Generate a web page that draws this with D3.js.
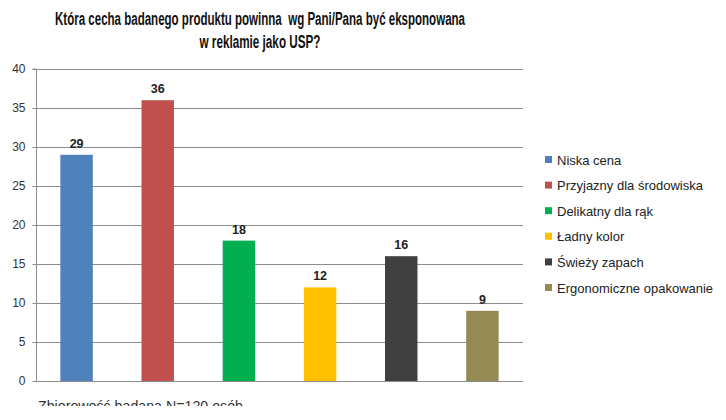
<!DOCTYPE html>
<html><head><meta charset="utf-8">
<script src="https://cdn.jsdelivr.net/npm/d3@7"></script>
<style>body{margin:0;background:#fff}svg{display:block}</style>
</head><body>
<svg id="c" width="726" height="420"></svg>
<script>
const categories = ["Niska cena","Przyjazny dla środowiska","Delikatny dla rąk","Ładny kolor","Świeży zapach","Ergonomiczne opakowanie"];
const values = [29,36,18,12,16,9];
const colors = ["#4F81BD","#C0504D","#00B050","#FFC000","#404040","#948A54"];
const yTicks = [0,5,10,15,20,25,30,35,40];
const titleLines = ["Która cecha badanego produktu powinna  wg Pani/Pana być eksponowana","w reklamie jako USP?"];
const caption = "Zbiorowość badana N=120 osób";

const svg = d3.select("#c");
const font = "'Liberation Sans', Arial, sans-serif";
const m = {l:36, r:523, t:69, b:381};
const x = d3.scaleBand().domain(categories).range([m.l, m.r]).paddingInner(0.6).paddingOuter(0.3);
const y = d3.scaleLinear().domain([0,40]).range([m.b, m.t]);

// gridlines
svg.append("g").selectAll("line").data(yTicks.filter(d=>d>0)).join("line")
  .attr("x1", m.l).attr("x2", m.r).attr("y1", d=>y(d)+0.5).attr("y2", d=>y(d)+0.5)
  .attr("stroke","#8c8c8c").attr("stroke-width",1);

// y axis
const ya = svg.append("g").attr("transform",`translate(${m.l+0.5},0)`)
  .call(d3.axisLeft(y).tickValues(yTicks).tickSize(4).tickPadding(7));
ya.select(".domain").attr("stroke","#8c8c8c").attr("d",`M-4,${m.t}H0V${m.b}`);
ya.selectAll(".tick line").attr("stroke","#8c8c8c");
ya.selectAll(".tick text").attr("font-family",font).attr("font-size",12).attr("fill","#333");

// x baseline
svg.append("line").attr("x1",m.l).attr("x2",m.r).attr("y1",m.b+0.5).attr("y2",m.b+0.5).attr("stroke","#8c8c8c");

// bars
svg.append("g").selectAll("rect").data(values).join("rect")
  .attr("x",(d,i)=>x(categories[i])).attr("width",x.bandwidth())
  .attr("y",d=>y(d)).attr("height",d=>m.b-y(d)).attr("fill",(d,i)=>colors[i]);

// value labels
svg.append("g").selectAll("text").data(values).join("text")
  .attr("x",(d,i)=>x(categories[i])+x.bandwidth()/2).attr("y",d=>y(d)-7)
  .attr("text-anchor","middle").attr("font-family",font).attr("font-weight","bold")
  .attr("font-size",12.5).attr("fill","#222").text(d=>d);

// legend
const lg = svg.append("g");
categories.forEach((c,i)=>{
  const cy = 160 + i*25.6;
  lg.append("rect").attr("x",545).attr("y",cy-4).attr("width",7).attr("height",7).attr("fill",colors[i]);
  lg.append("text").attr("x",557).attr("y",cy+4.5).attr("font-family",font).attr("font-size",13)
    .attr("fill","#222").text(c);
});

// title
svg.append("text").attr("x",260).attr("y",25).attr("text-anchor","middle").style("white-space","pre")
  .attr("font-family",font).attr("font-weight","bold").attr("font-size",17.5).attr("fill","#111")
  .attr("textLength",410).attr("lengthAdjust","spacingAndGlyphs").text(titleLines[0]);
svg.append("text").attr("x",260).attr("y",48).attr("text-anchor","middle")
  .attr("font-family",font).attr("font-weight","bold").attr("font-size",17.5).attr("fill","#111")
  .attr("textLength",121).attr("lengthAdjust","spacingAndGlyphs").text(titleLines[1]);

// caption (clipped at bottom like reference)
svg.append("clipPath").attr("id","cap").append("rect").attr("x",0).attr("y",390).attr("width",726).attr("height",16);
svg.append("text").attr("x",38).attr("y",411).attr("clip-path","url(#cap)")
  .attr("font-family",font).attr("font-size",14).attr("fill","#333")
  .attr("textLength",205).attr("lengthAdjust","spacingAndGlyphs").text(caption);
</script>
</body></html>
